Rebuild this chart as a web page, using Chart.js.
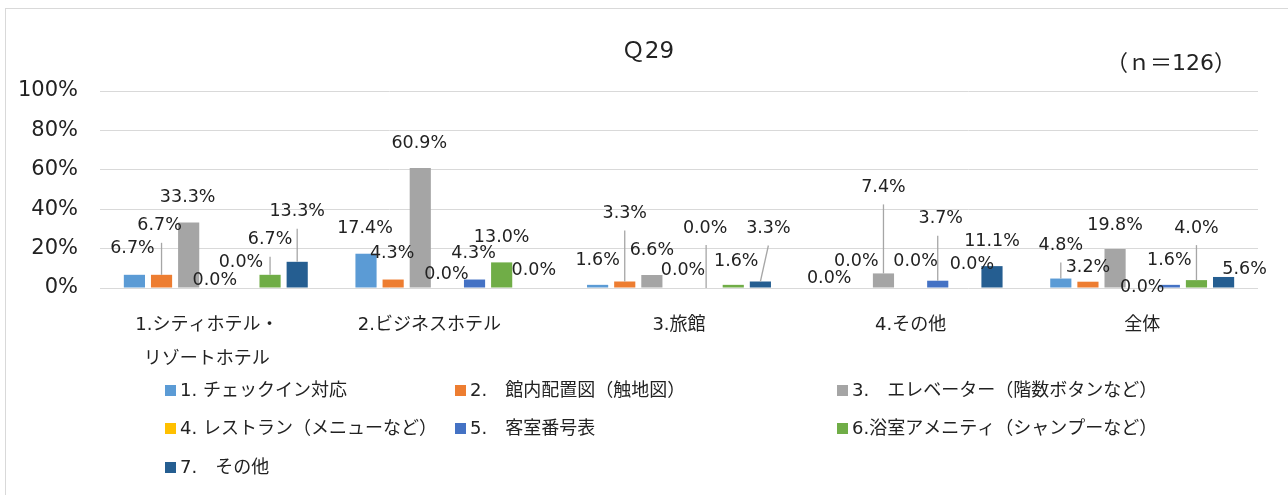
<!DOCTYPE html>
<html>
<head>
<meta charset="utf-8">
<script src="https://cdn.jsdelivr.net/npm/chart.js@4/dist/chart.umd.min.js"></script>
<style>
  html, body { margin: 0; padding: 0; background: #fff; }
  #wrap { width: 1288px; height: 495px; position: relative; }
</style>
</head>
<body>
<div id="wrap"><canvas id="chart-canvas"></canvas></div>
<script>
// ---- data ----
var categories = [['1.シティホテル・　', 'リゾートホテル　'], '2.ビジネスホテル　　', '3.旅館', '4.その他', '全体'];
var seriesNames = [
    '1. チェックイン対応',
    '2.　館内配置図（触地図）',
    '3.　エレベーター（階数ボタンなど）',
    '4. レストラン（メニューなど）',
    '5.　客室番号表',
    '6.浴室アメニティ（シャンプーなど）',
    '7.　その他'
];
var checkIn    = [6.7, 17.4, 1.6, 0.0, 4.8];
var floorMap   = [6.7, 4.3, 3.3, 0.0, 3.2];
var elevator   = [33.3, 60.9, 6.6, 7.4, 19.8];
var restaurant = [0.0, 0.0, 0.0, 0.0, 0.0];
var roomNumber = [0.0, 4.3, 0.0, 3.7, 1.6];
var amenity    = [6.7, 13.0, 1.6, 0.0, 4.0];
var other      = [13.3, 0.0, 3.3, 11.1, 5.6];
var yTicks = [0, 20, 40, 60, 80, 100];

var colors = ['#5B9BD5', '#ED7D31', '#A5A5A5', '#FFC000', '#4472C4', '#70AD47', '#255E91'];

// label nudges [dx, dy] from bar top, per series / category (moved by hand in the original)
var labelOffsets = [
    [[-2, -26], [-1, -25], [0, -24], [0, -10], [0, -33]],
    [[-2, -49], [-1, -26], [0, -68], [0, -27], [0, -14]],
    [[-1, -25], [-1, -25], [0, -25], [0, -86], [0, -24]],
    [[-1, -8], [-1, -14], [4, -18], [5, -27], [0, -1]],
    [[-2, -26], [-1, -26], [-1, -60], [3, -62], [0, -24]],
    [[0, -35], [0, -25], [3, -23], [7, -24], [0, -52]],
    [[0, -50], [5, -18], [8, -53], [0, -25], [21, -8]]
];

var seriesData = [checkIn, floorMap, elevator, restaurant, roomNumber, amenity, other];

var textColor = '#222';
var jpFont = '"DejaVu Sans", "Noto Sans CJK JP"';

// white bg + outer frame, title, n, data labels, legend
var decorations = {
    id: 'decorations',
    beforeDraw: function (chart) {
        var c = chart.ctx;
        c.save();
        c.fillStyle = '#fff';
        c.fillRect(0, 0, chart.width, chart.height);
        c.strokeStyle = '#D9D9D9';
        c.lineWidth = 1;
        c.strokeRect(5.5, 8.5, chart.width + 10, chart.height + 10);
        c.restore();
    },
    afterDatasetsDraw: function (chart) {
        var c = chart.ctx;
        c.save();
        c.fillStyle = textColor;
        c.textAlign = 'center';
        c.textBaseline = 'middle';
        c.font = '23px ' + jpFont;
        c.fillText('Ｑ29', chart.width / 2 + 4, 52);
        c.font = '22px ' + jpFont;
        c.fillText('（ｎ＝126）', 1171, 64);

        // data labels
        c.font = '17.5px "DejaVu Sans"';
        chart.data.datasets.forEach(function (ds, si) {
            var meta = chart.getDatasetMeta(si);
            meta.data.forEach(function (bar, ci) {
                var off = labelOffsets[si][ci];
                var lx = bar.x + off[0];
                var ly = bar.y + off[1];
                if (off[1] < -30) {
                    c.strokeStyle = '#A6A6A6';
                    c.lineWidth = 1.3;
                    c.beginPath();
                    var sx = Math.abs(off[0]) <= 3 ? bar.x : lx;
                    c.moveTo(sx, ly + 17);
                    c.lineTo(bar.x, bar.y);
                    c.stroke();
                }
                c.fillStyle = textColor;
                c.fillText(ds.data[ci].toFixed(1) + '%', lx, ly);
            });
        });

        // legend, three columns
        var colX = [165, 455, 837];
        var rowY = [390, 428, 467];
        c.font = '18px ' + jpFont;
        c.textAlign = 'left';
        chart.data.datasets.forEach(function (ds, i) {
            var x = colX[i % 3];
            var y = rowY[Math.floor(i / 3)];
            c.fillStyle = ds.backgroundColor;
            c.fillRect(x, y - 5, 11, 11);
            c.fillStyle = textColor;
            c.fillText(ds.label, x + 15, y + 1);
        });
        c.restore();
    }
};

var ctx = document.getElementById('chart-canvas').getContext('2d');
var myChart = new Chart(ctx, {
    type: 'bar',
    data: {
        labels: categories,
        datasets: seriesData.map(function (d, i) {
            return {
                label: seriesNames[i],
                data: d,
                backgroundColor: colors[i],
                borderWidth: 0,
                categoryPercentage: 0.82,
                barPercentage: 0.78
            };
        })
    },
    options: {
        responsive: true,
        maintainAspectRatio: false,
        animation: false,
        layout: { padding: { top: 91, right: 30, left: 0, bottom: 0 } },
        plugins: {
            legend: { display: false },
            title: { display: false },
            tooltip: { enabled: false }
        },
        scales: {
            x: {
                grid: { display: false, drawTicks: false },
                border: { display: false },
                ticks: {
                    color: textColor,
                    padding: 21,
                    maxRotation: 0,
                    autoSkip: false,
                    font: { family: jpFont, size: 18, lineHeight: 1.85 }
                },
                afterFit: function (scale) { scale.height = 207; }
            },
            y: {
                min: 0,
                max: 100,
                afterBuildTicks: function (scale) {
                    scale.ticks = yTicks.map(function (v) { return { value: v }; });
                },
                grid: { color: '#D9D9D9', lineWidth: 1, drawTicks: false },
                border: { display: false },
                ticks: {
                    color: textColor,
                    padding: 22,
                    font: { family: '"DejaVu Sans"', size: 21 },
                    callback: function (v) { return v + '%'; }
                },
                afterFit: function (scale) { scale.width = 100; }
            }
        }
    },
    plugins: [decorations]
});
</script>
</body>
</html>
